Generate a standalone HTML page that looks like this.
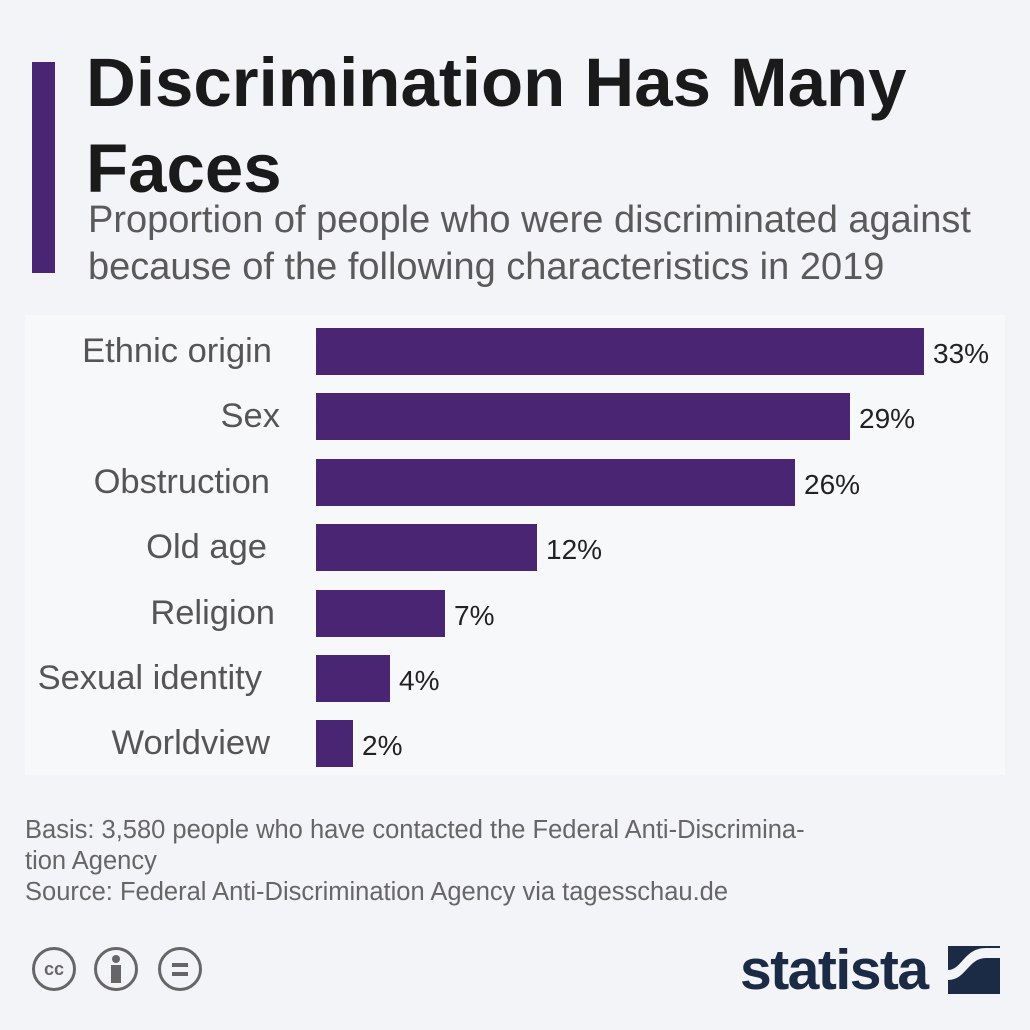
<!DOCTYPE html>
<html><head><meta charset="utf-8"><style>
body{margin:0;width:1030px;height:1030px;background:#f3f4f7;font-family:"Liberation Sans",sans-serif;position:relative;overflow:hidden}
.a{position:absolute}
.bar{position:absolute;left:316px;height:47px;background:#4a2574}
.lab{position:absolute;right:758px;font-size:34.5px;color:#555;white-space:nowrap;line-height:47px}
.val{position:absolute;font-size:28px;color:#222;line-height:47px}
</style></head><body>
<div class="a" style="left:32px;top:62px;width:23px;height:211px;background:#4a2574"></div>
<div class="a" style="left:86px;top:40px;font-size:69px;font-weight:bold;line-height:86px;color:#1a1a1a;width:940px">Discrimination Has Many<br>Faces</div>
<div class="a" style="left:88px;top:197px;font-size:38px;line-height:47px;color:#5a5a5a;width:940px;white-space:nowrap">Proportion of people who were discriminated against<br>because of the following characteristics in 2019</div>
<div class="a" style="left:25px;top:315px;width:980px;height:460px;background:#f7f8fa"></div>

<div class="lab" style="top:328px">Ethnic origin</div>
<div class="bar" style="top:328px;width:608px"></div><div class="val" style="left:933px;top:330px">33%</div>
<div class="lab" style="top:393px;right:750px">Sex</div>
<div class="bar" style="top:393px;width:534px"></div><div class="val" style="left:859px;top:395px">29%</div>
<div class="lab" style="top:459px;right:760px">Obstruction</div>
<div class="bar" style="top:459px;width:479px"></div><div class="val" style="left:804px;top:461px">26%</div>
<div class="lab" style="top:524px;right:763px">Old age</div>
<div class="bar" style="top:524px;width:221px"></div><div class="val" style="left:546px;top:526px">12%</div>
<div class="lab" style="top:590px;right:755px">Religion</div>
<div class="bar" style="top:590px;width:129px"></div><div class="val" style="left:454px;top:592px">7%</div>
<div class="lab" style="top:655px;right:768px">Sexual identity</div>
<div class="bar" style="top:655px;width:74px"></div><div class="val" style="left:399px;top:657px">4%</div>
<div class="lab" style="top:720px;right:760px">Worldview</div>
<div class="bar" style="top:720px;width:37px"></div><div class="val" style="left:362px;top:722px">2%</div>

<div class="a" style="left:25px;top:815px;font-size:25.5px;line-height:31px;color:#666;width:900px;white-space:nowrap">Basis: 3,580 people who have contacted the Federal Anti-Discrimina-<br>tion Agency<br>Source: Federal Anti-Discrimination Agency via tagesschau.de</div>

<div class="a" style="left:32px;top:947px;width:44px;height:44px;border:3px solid #666;border-radius:50%;box-sizing:border-box;font-size:18px;font-weight:bold;color:#666;text-align:center;line-height:38px">cc</div>
<div class="a" style="left:94px;top:947px;width:44px;height:44px;border:3px solid #666;border-radius:50%;box-sizing:border-box"><div class="a" style="left:15px;top:5px;width:8px;height:8px;border-radius:50%;background:#666"></div><div class="a" style="left:14px;top:15px;width:10px;height:18px;background:#666"></div></div>
<div class="a" style="left:158px;top:947px;width:44px;height:44px;border:3px solid #666;border-radius:50%;box-sizing:border-box"><div class="a" style="left:11px;top:13px;width:16px;height:4px;background:#666"></div><div class="a" style="left:11px;top:22px;width:16px;height:4px;background:#666"></div></div>

<div class="a" style="left:740px;top:937px;font-size:57px;font-weight:bold;color:#1b2b45;letter-spacing:-1.5px">statista</div>
<svg class="a" style="left:948px;top:946px" width="52" height="48" viewBox="0 0 52 48"><rect width="52" height="48" fill="#1b2b45"/><path d="M0 34 C18 34 20 12 38 12 L52 12 L52 2 L38 2 C16 2 14 24 0 24Z" fill="#f3f4f7"/></svg>
</body></html>
